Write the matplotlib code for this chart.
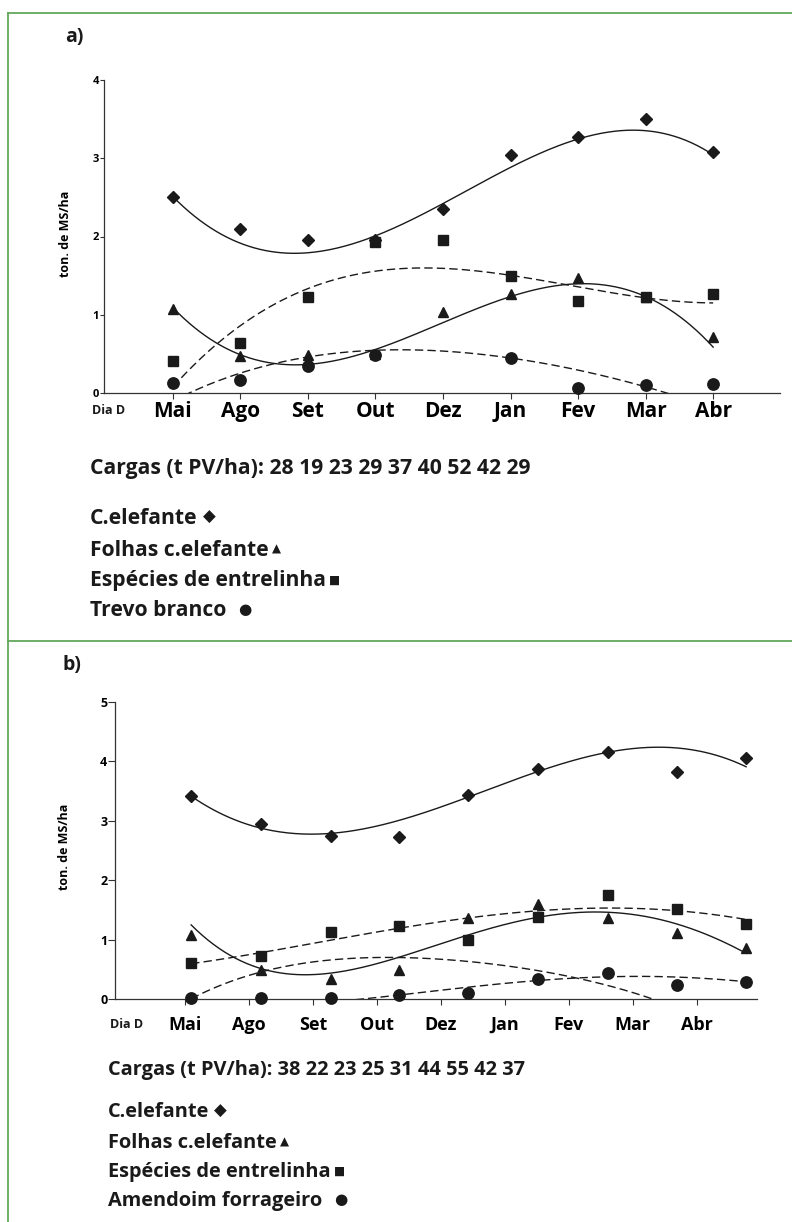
import numpy as np
import matplotlib
matplotlib.use("Agg")
import matplotlib.pyplot as plt

plt.rcParams['font.family'] = ['Open Sans', 'DejaVu Sans']

nan = np.nan

# meses de amostragem
meses = ['Mai', 'Ago', 'Set', 'Out', 'Dez', 'Jan', 'Fev', 'Mar', 'Abr']
cargas_a = [28, 19, 23, 29, 37, 40, 52, 42, 29]
cargas_b = [38, 22, 23, 25, 31, 44, 55, 42, 37]

# a) posições de amostragem = meses
xa = [0, 1, 2, 3, 4, 5, 6, 7, 8]
cel_a = [2.51, 2.09, 1.96, 1.95, 2.35, 3.04, 3.27, 3.50, 3.08]
folhas_a = [1.07, 0.47, 0.49, 0.50, 1.03, 1.26, 1.47, 1.23, 0.71]
entre_a = [0.41, 0.64, 1.23, 1.93, 1.95, 1.50, 1.18, 1.23, 1.26]
trevo_a = [0.13, 0.17, 0.35, 0.49, nan, 0.45, 0.07, 0.10, 0.12]

# a) linhas de tendência lidas nos meses
tend_cel_a = [2.51, 1.92, 1.77, 2.03, 2.43, 2.86, 3.25, 3.36, 3.04]
tend_folhas_a = [1.09, 0.49, 0.37, 0.55, 0.90, 1.23, 1.41, 1.22, 0.59]
tend_entre_a = [0.08, 0.85, 1.35, 1.55, 1.59, 1.51, 1.35, 1.22, 1.15]
tend_trevo_a = [-0.10, 0.25, 0.46, 0.55, 0.54, 0.45, 0.27, 0.10, -0.20]

# b) datas de amostragem (em unidades de mês no eixo)
xb = [0.1, 1.19, 2.28, 3.34, 4.42, 5.52, 6.61, 7.69, 8.77]
cel_b = [3.42, 2.94, 2.74, 2.73, 3.43, 3.88, 4.16, 3.82, 4.05]
folhas_b = [1.08, 0.49, 0.33, 0.49, 1.37, 1.60, 1.36, 1.11, 0.86]
entre_b = [0.60, 0.72, 1.13, 1.23, 1.00, 1.38, 1.75, 1.51, 1.26]
amend_b = [0.02, 0.02, 0.02, 0.06, 0.10, 0.33, 0.43, 0.24, 0.29]

# b) linhas de tendência
tend_cel_b = [3.40, 2.92, 2.76, 2.98, 3.41, 3.85, 4.16, 4.20, 3.92]
tend_sol_b = [1.25, 0.50, 0.45, 0.72, 1.03, 1.38, 1.51, 1.22, 0.78]
tend_entre_b = [0.60, 0.77, 0.98, 1.22, 1.36, 1.47, 1.52, 1.51, 1.33]
tend_arco_b = [0.00, 0.47, 0.64, 0.70, 0.64, 0.48, 0.22, -0.15, nan]
tend_amend_b = [nan, nan, -0.05, 0.07, 0.19, 0.32, 0.37, 0.37, 0.29]

W, H = 792, 1222
fig = plt.figure(figsize=(W / 100, H / 100), dpi=100)
GREEN = '#62a85a'
INK = '#1a1a1a'


def fx(x):
    return x / W


def fy(y):
    return 1 - y / H


def tendencia(ax, x, y, ls):
    x = np.asarray(x, float)
    y = np.asarray(y, float)
    ok = ~np.isnan(y)
    c = np.polyfit(x[ok], y[ok], 4)
    xs = np.linspace(x[ok][0], x[ok][-1], 300)
    ax.plot(xs, np.polyval(c, xs), color=INK, lw=1.0, ls=ls,
            dashes=(6, 3) if ls == '--' else (None, None), zorder=2)


def pontos(ax, x, y, m, ms):
    ax.plot(x, y, ls='none', marker=m, ms=ms, color=INK, mec=INK,
            clip_on=False, zorder=3)


def eixo(ax, ymax, xlim, ysize, xsize, ylen, xpad):
    ax.set_xlim(*xlim)
    ax.set_ylim(0, ymax)
    for s in ['top', 'right']:
        ax.spines[s].set_visible(False)
    for s in ['left', 'bottom']:
        ax.spines[s].set_color('#333333')
        ax.spines[s].set_linewidth(0.9)
    ax.set_yticks(range(ymax + 1))
    ax.set_yticklabels([str(v) for v in range(ymax + 1)], fontsize=ysize,
                       fontweight='bold')
    ax.set_xticks(range(len(meses)))
    ax.set_xticklabels(meses, fontsize=xsize, fontweight='bold')
    ax.tick_params(axis='y', length=ylen, width=0.8, pad=0.5, color='#333333')
    ax.tick_params(axis='x', length=4, width=0.8, pad=xpad, color='#333333')
    ax.patch.set_alpha(0)


# ---- painel a ----
ax1 = fig.add_axes([fx(104), fy(393), 676 / W, 313 / H])
eixo(ax1, 4, (-1.02, 8.99), 8, 15, 3, 1.5)
tendencia(ax1, xa, tend_cel_a, '-')
tendencia(ax1, xa, tend_folhas_a, '-')
tendencia(ax1, xa, tend_entre_a, '--')
tendencia(ax1, xa, tend_trevo_a, '--')
pontos(ax1, xa, cel_a, 'D', 6.6)
pontos(ax1, xa, folhas_a, '^', 7)
pontos(ax1, xa, entre_a, 's', 7.5)
pontos(ax1, xa, trevo_a, 'o', 8.2)
ax1.set_ylabel('ton. de MS/ha', fontsize=9, fontweight='bold')
ax1.yaxis.set_label_coords(-0.047, 0.51)

# ---- painel b ----
ax2 = fig.add_axes([fx(115), fy(999), 642 / W, 297 / H])
eixo(ax2, 5, (-1.09, 8.94), 9, 13, 5, 8)
tendencia(ax2, xb, tend_cel_b, '-')
tendencia(ax2, xb, tend_sol_b, '-')
tendencia(ax2, xb, tend_entre_b, '--')
tendencia(ax2, xb, tend_arco_b, '--')
tendencia(ax2, xb, tend_amend_b, '--')
pontos(ax2, xb, cel_b, 'D', 6.6)
pontos(ax2, xb, folhas_b, '^', 7)
pontos(ax2, xb, entre_b, 's', 7.2)
pontos(ax2, xb, amend_b, 'o', 8.2)
ax2.set_ylabel('ton. de MS/ha', fontsize=9, fontweight='bold')
ax2.yaxis.set_label_coords(-0.0685, 0.512)


# ---- textos ----
def txt(x, y, s, size, **kw):
    return fig.text(fx(x), fy(y), s, fontsize=size, fontweight='bold',
                    color=INK, va='center', **kw)


txt(65, 37, 'a)', 14)
txt(63, 665, 'b)', 14)
txt(109, 410, 'Dia D', 9, ha='center')
txt(127, 1024, 'Dia D', 9, ha='center')

txt(90, 469, 'Cargas (t PV/ha): ' + ' '.join(str(c) for c in cargas_a), 15.2)
txt(108, 1070, 'Cargas (t PV/ha): ' + ' '.join(str(c) for c in cargas_b), 14.4)

nomes_a = ['C.elefante', 'Folhas c.elefante', 'Espécies de entrelinha',
           'Trevo branco']
nomes_b = ['C.elefante', 'Folhas c.elefante', 'Espécies de entrelinha',
           'Amendoim forrageiro']
# símbolo, tamanho, espaço após o texto (px)
simbolos = [('\u25c6', 12, 5), ('\u25b2', 8.5, 3), ('\u25a0', 8.5, 3),
            ('\u25cf', 11, 12)]

renderer = fig.canvas.get_renderer()
for nomes, x0, ys, tam in [(nomes_a, 90, [518, 550, 581, 611], 15.2),
                           (nomes_b, 108, [1112, 1143, 1172, 1201], 14.4)]:
    for nome, y, (g, gs, gap) in zip(nomes, ys, simbolos):
        t = txt(x0, y, nome, tam)
        x1 = t.get_window_extent(renderer).x1
        fig.text(fx(x1 + gap), fy(y - 1), g, fontsize=gs, color=INK,
                 family='DejaVu Sans', va='center')

# moldura verde
for (x0, y0, x1, y1) in [(8, 13, W, 13), (8, 13, 8, H), (8, 641, W, 641)]:
    fig.add_artist(plt.Line2D([fx(x0), fx(x1)], [fy(y0), fy(y1)],
                              color=GREEN, lw=1.3))

fig.savefig('out.png', dpi=100)
